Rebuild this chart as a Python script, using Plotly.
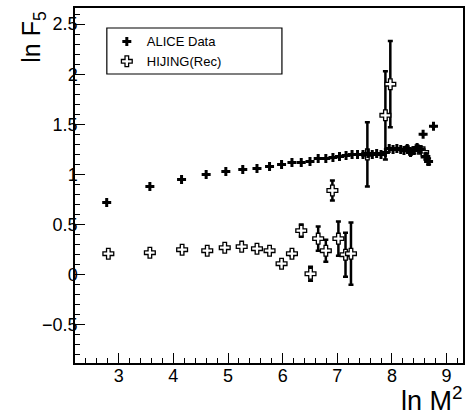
import plotly.graph_objects as go

# ALICE Data
alice_x = [2.78, 3.57, 4.15, 4.60, 4.96, 5.27, 5.53, 5.76, 5.98, 6.17, 6.34, 6.50, 6.65,
           6.79, 6.92, 7.04, 7.16, 7.27, 7.37, 7.47, 7.56, 7.64, 7.72, 7.80, 7.88, 7.95,
           8.02, 8.09, 8.16, 8.22, 8.28, 8.34, 8.40, 8.46, 8.52, 8.57, 8.62, 8.67, 8.76]
alice_y = [0.72, 0.88, 0.95, 1.00, 1.03, 1.05, 1.06, 1.08, 1.10, 1.12, 1.12, 1.13, 1.16,
           1.16, 1.17, 1.18, 1.19, 1.20, 1.20, 1.20, 1.21, 1.20, 1.21, 1.20, 1.22, 1.26,
           1.25, 1.26, 1.25, 1.24, 1.26, 1.22, 1.24, 1.27, 1.25, 1.40, 1.18, 1.13, 1.48]
alice_err = [0.0] * 30 + [0.02, 0.02, 0.03, 0.02, 0.03, 0.0, 0.03, 0.03, 0.0]

# HIJING(Rec)
hij_x = [2.81, 3.57, 4.16, 4.62, 4.94, 5.25, 5.53, 5.76, 5.98, 6.17, 6.34, 6.51, 6.65,
         6.79, 6.91, 7.02, 7.15, 7.25, 7.55, 7.88, 7.97, 8.57]
hij_y = [0.21, 0.22, 0.25, 0.24, 0.27, 0.28, 0.26, 0.24, 0.11, 0.21, 0.44, 0.01, 0.36,
         0.24, 0.84, 0.36, 0.20, 0.21, 1.20, 1.59, 1.90, 1.22]
hij_err = [0.01, 0.01, 0.01, 0.01, 0.01, 0.01, 0.01, 0.01, 0.02, 0.02, 0.06, 0.07, 0.12,
           0.11, 0.10, 0.17, 0.22, 0.31, 0.32, 0.44, 0.43, 0.03]

fig = go.Figure()
fig.add_trace(go.Scatter(
    x=hij_x, y=hij_y, mode="markers", name="HIJING(Rec)",
    error_y=dict(type="data", array=hij_err, color="black", thickness=2.5, width=2.5),
    marker=dict(symbol="cross", size=9, color="white", line=dict(color="black", width=1.3)),
))
fig.add_trace(go.Scatter(
    x=alice_x, y=alice_y, mode="markers", name="ALICE Data",
    error_y=dict(type="data", array=alice_err, color="black", thickness=2.5, width=2.5),
    marker=dict(symbol="cross", size=7.5, color="black", line=dict(width=0)),
))

font = "Liberation Sans, Arial, Helvetica, sans-serif"
axis_common = dict(
    showline=True, linecolor="black", linewidth=1.5, mirror=True,
    ticks="inside", ticklen=10, tickwidth=1.2, tickcolor="black",
    showgrid=False, zeroline=False,
    tickfont=dict(family=font, size=18, color="black"),
)
fig.update_layout(
    width=471, height=415,
    margin=dict(l=75, r=6, t=8, b=52),
    paper_bgcolor="white", plot_bgcolor="white",
    font=dict(family=font, color="black"),
    showlegend=True,
    legend=dict(x=0.082, y=0.948, xanchor="left", yanchor="top",
                bgcolor="rgba(0,0,0,0)", borderwidth=0, traceorder="reversed",
                font=dict(family=font, size=13, color="black")),
    xaxis=dict(range=[2.2, 9.3], tickvals=[3, 4, 5, 6, 7, 8, 9], ticklabelstandoff=-4,
               minor=dict(ticks="inside", ticklen=5, dtick=0.2, tickcolor="black", tickwidth=1),
               **axis_common),
    yaxis=dict(range=[-0.88, 2.66], tickvals=[-0.5, 0, 0.5, 1, 1.5, 2, 2.5],
               ticktext=["\u22120.5", "0", "0.5", "1", "1.5", "2", "2.5"], ticklabelstandoff=-8,
               minor=dict(ticks="inside", ticklen=5, dtick=0.1, tickcolor="black", tickwidth=1),
               **axis_common),
    shapes=[dict(type="rect", xref="paper", yref="paper",
                 x0=(107 - 75) / 390, x1=(283 - 75) / 390,
                 y0=(363 - 74) / 355, y1=(363 - 28) / 355,
                 line=dict(color="black", width=1.2), fillcolor="rgba(0,0,0,0)")],
    annotations=[
        dict(text="ln M<sup>2</sup>", xref="paper", yref="paper", x=1.0, y=-0.10,
             xanchor="right", yanchor="middle", showarrow=False, xshift=2,
             font=dict(family=font, size=27, color="black")),
        dict(text="ln F<sub>5</sub>", xref="paper", yref="paper", x=-0.108, y=0.994,
             xanchor="center", yanchor="top", showarrow=False, textangle=-90,
             font=dict(family=font, size=25, color="black")),
    ],
)
fig.write_html("out.html")
